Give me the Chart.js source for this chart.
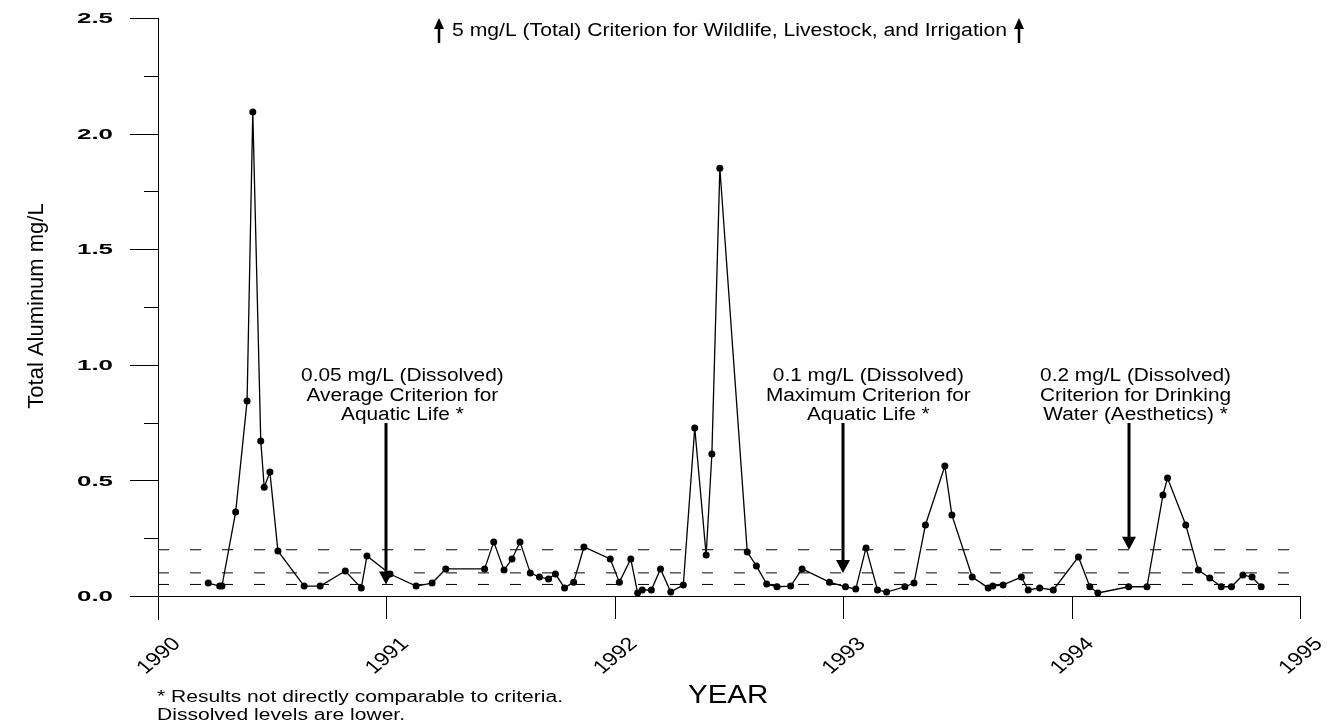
<!DOCTYPE html>
<html>
<head>
<meta charset="utf-8">
<script src="https://cdn.jsdelivr.net/npm/chart.js@4.4.1/dist/chart.umd.min.js"></script>
<style>
  body { margin: 0; background: #fff; }
  canvas { display: block; }
</style>
</head>
<body>
<canvas id="alChart" width="1343" height="728"></canvas>
<script>
// sample dates (decimal years) and total aluminum, mg/L
const sampleYears = [
  1990.22, 1990.27, 1990.28, 1990.34, 1990.39, 1990.415, 1990.45, 1990.465, 1990.49, 1990.525,
  1990.64, 1990.71, 1990.82, 1990.89, 1990.915,
  1991.016, 1991.13, 1991.20, 1991.26, 1991.43, 1991.47, 1991.515, 1991.55, 1991.585, 1991.63,
  1991.67, 1991.71, 1991.74, 1991.78, 1991.82, 1991.865, 1991.98,
  1992.02, 1992.07, 1992.10, 1992.12, 1992.16, 1992.20, 1992.245, 1992.30, 1992.35, 1992.40,
  1992.425, 1992.46, 1992.58, 1992.62, 1992.665, 1992.71, 1992.77, 1992.82, 1992.94,
  1993.01, 1993.055, 1993.10, 1993.15, 1993.19, 1993.27, 1993.31, 1993.36, 1993.445, 1993.476,
  1993.565, 1993.635, 1993.655, 1993.70, 1993.78, 1993.81, 1993.86, 1993.92,
  1994.03, 1994.08, 1994.115, 1994.25, 1994.33, 1994.40, 1994.42, 1994.50, 1994.555, 1994.605,
  1994.655, 1994.70, 1994.75, 1994.79, 1994.83
];
const aluminum = [
  0.056, 0.043, 0.043, 0.363, 0.843, 2.093, 0.67, 0.47, 0.536, 0.195,
  0.043, 0.043, 0.108, 0.035, 0.173,
  0.095, 0.043, 0.056, 0.117, 0.117, 0.234, 0.112, 0.16, 0.234, 0.1,
  0.082, 0.074, 0.095, 0.035, 0.06, 0.212, 0.16,
  0.06, 0.16, 0.013, 0.026, 0.026, 0.117, 0.017, 0.048, 0.727, 0.177,
  0.614, 1.85, 0.19, 0.13, 0.052, 0.04, 0.043, 0.117, 0.06,
  0.04, 0.03, 0.208, 0.026, 0.017, 0.04, 0.056, 0.307, 0.562, 0.35,
  0.082, 0.035, 0.043, 0.048, 0.082, 0.026, 0.035, 0.026,
  0.169, 0.04, 0.013, 0.04, 0.04, 0.437, 0.51, 0.307, 0.112, 0.078,
  0.04, 0.04, 0.091, 0.082, 0.04
];

const yearTicks = [1990, 1991, 1992, 1993, 1994, 1995];
const valueTicks = [0.0, 0.5, 1.0, 1.5, 2.0, 2.5];

// criteria lines, where their arrows point and their labels
const criteria = [0.05, 0.1, 0.2];
const arrowYears = [1991, 1993, 1994.25];
const labelYears = [1991.07, 1993.11, 1994.28];
const criteriaText = [
  ["0.05 mg/L (Dissolved)", "Average Criterion for", "Aquatic Life *"],
  ["0.1 mg/L (Dissolved)", "Maximum Criterion for", "Aquatic Life *"],
  ["0.2 mg/L (Dissolved)", "Criterion for Drinking", "Water (Aesthetics) *"]
];
const topNote = "5 mg/L (Total) Criterion for Wildlife, Livestock, and Irrigation";

const points = sampleYears.map((yr, i) => ({ x: yr, y: aluminum[i] }));

const criteriaSets = criteria.map(c => ({
  data: [{ x: yearTicks[0], y: c }, { x: yearTicks[yearTicks.length - 1], y: c }],
  borderColor: "#000",
  borderWidth: 1,
  borderDash: [11, 21],
  pointRadius: 0,
  order: 2
}));

// the original text is drawn a bit wide, so stretch it sideways
function wideText(ctx, text, x, y, sx, align) {
  ctx.save();
  ctx.translate(x, y);
  ctx.scale(sx, 1);
  ctx.textAlign = align;
  ctx.fillText(text, 0, 0);
  ctx.restore();
}

function arrowDown(ctx, x, yTop, yTip) {
  ctx.lineWidth = 3;
  ctx.beginPath();
  ctx.moveTo(x, yTop);
  ctx.lineTo(x, yTip - 10);
  ctx.stroke();
  ctx.beginPath();
  ctx.moveTo(x - 7, yTip - 13);
  ctx.lineTo(x + 7, yTip - 13);
  ctx.lineTo(x, yTip);
  ctx.closePath();
  ctx.fill();
}

function arrowUp(ctx, x, yBottom, yTip) {
  ctx.lineWidth = 2.5;
  ctx.beginPath();
  ctx.moveTo(x, yBottom);
  ctx.lineTo(x, yTip + 8);
  ctx.stroke();
  ctx.beginPath();
  ctx.moveTo(x - 5, yTip + 11);
  ctx.lineTo(x + 5, yTip + 11);
  ctx.lineTo(x, yTip);
  ctx.closePath();
  ctx.fill();
}

const decor = {
  id: "decor",
  beforeDraw(chart) {
    const ctx = chart.ctx;
    ctx.save();
    ctx.fillStyle = "#fff";
    ctx.fillRect(0, 0, chart.width, chart.height);
    ctx.restore();
  },
  beforeDatasetsDraw(chart) {
    const { ctx, scales: { x, y } } = chart;
    const x0 = x.getPixelForValue(1990);
    const x1 = x.getPixelForValue(1995);
    const yb = y.getPixelForValue(0);
    const yt = y.getPixelForValue(2.5);
    ctx.save();
    ctx.strokeStyle = "#000";
    ctx.fillStyle = "#000";
    ctx.lineWidth = 1;
    // axes
    ctx.beginPath();
    ctx.moveTo(x0 + 0.5, yt);
    ctx.lineTo(x0 + 0.5, yb + 24);
    ctx.moveTo(x0 - 28, yb + 0.5);
    ctx.lineTo(x1, yb + 0.5);
    ctx.stroke();
    // y ticks, major and minor
    ctx.beginPath();
    for (let v = 0.25; v < 2.5; v += 0.5) {
      const py = Math.round(y.getPixelForValue(v)) + 0.5;
      ctx.moveTo(x0 - 14, py);
      ctx.lineTo(x0, py);
    }
    valueTicks.forEach(v => {
      const py = Math.round(y.getPixelForValue(v)) + 0.5;
      ctx.moveTo(x0 - 28, py);
      ctx.lineTo(x0, py);
    });
    // x ticks
    yearTicks.forEach(t => {
      const px = Math.round(x.getPixelForValue(t)) + 0.5;
      ctx.moveTo(px, yb);
      ctx.lineTo(px, yb + 23);
    });
    ctx.stroke();

    ctx.font = "bold 15px Arial";
    ctx.textBaseline = "middle";
    const ySx = 36 / ctx.measureText("2.5").width;
    valueTicks.forEach(v => {
      wideText(ctx, v.toFixed(1), x0 - 45, y.getPixelForValue(v) + 1, ySx, "right");
    });

    ctx.font = "19px Arial";
    ctx.textAlign = "center";
    yearTicks.forEach(t => {
      ctx.save();
      ctx.translate(x.getPixelForValue(t) + 1, yb + 60);
      ctx.scale(1.2, 1);
      ctx.rotate(-Math.PI / 4);
      ctx.fillText(String(t), 0, 0);
      ctx.restore();
    });

    // axis titles
    ctx.textBaseline = "alphabetic";
    ctx.font = "25px Arial";
    wideText(ctx, "YEAR", 688, 703, 1.18, "left");
    ctx.save();
    ctx.translate(43, 306);
    ctx.rotate(-Math.PI / 2);
    ctx.font = "22px 'Liberation Sans Narrow', Arial";
    ctx.textAlign = "center";
    ctx.fillText("Total Aluminum mg/L", 0, 0);
    ctx.restore();

    // footnote
    ctx.font = "16px Arial";
    const fSx = 406 / ctx.measureText("* Results not directly comparable to criteria.").width;
    wideText(ctx, "* Results not directly comparable to criteria.", 157, 702, fSx, "left");
    wideText(ctx, "Dissolved levels are lower.", 157, 720, fSx, "left");

    // criteria labels and arrows
    ctx.font = "18px Arial";
    const cSx = 191 / ctx.measureText("0.1 mg/L (Dissolved)").width;
    criteria.forEach((c, i) => {
      const lx = x.getPixelForValue(labelYears[i]);
      criteriaText[i].forEach((line, k) => {
        wideText(ctx, line, lx, 381 + k * 19.5, cSx, "center");
      });
      arrowDown(ctx, Math.round(x.getPixelForValue(arrowYears[i])), 423, y.getPixelForValue(c));
    });

    // off-scale criterion at the top
    ctx.font = "18px Arial";
    const tSx = 555 / ctx.measureText(topNote).width;
    wideText(ctx, topNote, 452, 36, tSx, "left");
    arrowUp(ctx, 439, 43, 18);
    arrowUp(ctx, 1019, 43, 18);
    ctx.restore();
  }
};

new Chart(document.getElementById("alChart"), {
  type: "line",
  data: {
    datasets: [
      {
        data: points,
        borderColor: "#000",
        backgroundColor: "#000",
        borderWidth: 1.3,
        pointRadius: 3.5,
        pointBorderWidth: 0,
        tension: 0,
        order: 1
      },
      ...criteriaSets
    ]
  },
  options: {
    responsive: false,
    animation: false,
    layout: { padding: { top: 18, right: 43, left: 0, bottom: 0 } },
    plugins: { legend: { display: false }, tooltip: { enabled: false } },
    scales: {
      x: {
        type: "linear",
        min: 1990,
        max: 1995,
        ticks: { display: false },
        grid: { display: false },
        border: { display: false },
        afterFit(s) { s.height = 132; }
      },
      y: {
        min: 0,
        max: 2.5,
        ticks: { display: false },
        grid: { display: false },
        border: { display: false },
        afterFit(s) { s.width = 158; }
      }
    }
  },
  plugins: [decor]
});
</script>
</body>
</html>
